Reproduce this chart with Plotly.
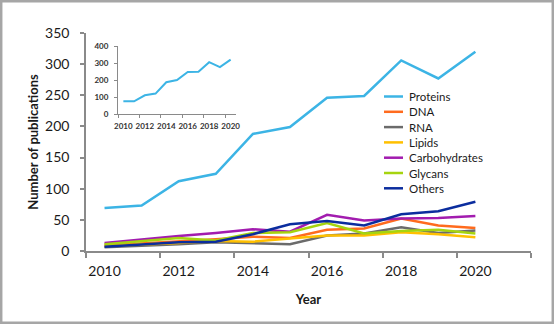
import plotly.graph_objects as go

years = [2010, 2011, 2012, 2013, 2014, 2015, 2016, 2017, 2018, 2019, 2020]
proteins = [69, 73, 112, 124, 188, 199, 246, 249, 306, 277, 320]
dna = [9, 12, 15, 19, 23, 21, 34, 36, 52, 41, 37]
rna = [6, 8, 11, 14, 13, 11, 25, 28, 38, 29, 33]
lipids = [8, 10, 13, 16, 15, 20, 25, 25, 30, 27, 22]
carbohydrates = [13, 19, 24, 29, 35, 31, 58, 49, 52, 53, 56]
glycans = [11, 16, 21, 17, 29, 30, 45, 28, 32, 34, 28]
others = [7, 10, 14, 15, 27, 43, 48, 41, 59, 64, 79]
inset_proteins = [75, 75, 110, 120, 187, 200, 247, 248, 305, 276, 320]

series = [
    ("Proteins", proteins, "#3cb4e5"),
    ("DNA", dna, "#ff6b1e"),
    ("RNA", rna, "#6b6b6b"),
    ("Lipids", lipids, "#ffc000"),
    ("Carbohydrates", carbohydrates, "#a21caf"),
    ("Glycans", glycans, "#a6d40f"),
    ("Others", others, "#0b2d9e"),
]

main_ticks = [2010, 2012, 2014, 2016, 2018, 2020]
main_yticks = [0, 50, 100, 150, 200, 250, 300, 350]
inset_yticks = [0, 100, 200, 300, 400]

W, H = 554, 324
fig = go.Figure()
for name, vals, col in series:
    fig.add_trace(go.Scatter(x=years, y=vals, name=name, mode="lines", showlegend=False,
                             line=dict(color=col, width=2.5), xaxis="x", yaxis="y"))
fig.add_trace(go.Scatter(x=years, y=inset_proteins, mode="lines", showlegend=False,
                         line=dict(color="#3cb4e5", width=2), xaxis="x2", yaxis="y2"))

font = "Lato, 'Open Sans', sans-serif"
axcol = "#8a8a8a"

# manual compact legend (paper coordinates)
shapes = [dict(type="rect", xref="paper", yref="paper",
               x0=1.2 / W, x1=1 - 1.2 / W, y0=1.2 / H, y1=1 - 1.2 / H,
               line=dict(color="#a6a6a6", width=2.5), fillcolor="rgba(0,0,0,0)")]
annotations = []
row0, rowgap = 96.5, 15.3
for i, (name, vals, col) in enumerate(series):
    ypx = row0 + i * rowgap
    yp = 1 - ypx / H
    shapes.append(dict(type="line", xref="paper", yref="paper",
                       x0=384 / W, x1=403 / W, y0=yp, y1=yp,
                       line=dict(color=col, width=2.5)))
    annotations.append(dict(xref="paper", yref="paper", x=407 / W, y=yp,
                            xanchor="left", yanchor="middle", showarrow=False,
                            text=name, font=dict(size=11.5, family=font, color="#1a1a1a")))

fig.update_layout(
    width=W, height=H, margin=dict(l=0, r=0, t=0, b=0),
    paper_bgcolor="white", plot_bgcolor="white",
    font=dict(family=font, color="#1a1a1a"),
    showlegend=False,
    xaxis=dict(domain=[86 / W, 531 / W], range=[2009.5, 2021.5],
               tickvals=main_ticks, ticks="", showgrid=False, zeroline=False,
               showline=True, linecolor=axcol, linewidth=1.5,
               tickfont=dict(size=14), ticklabelstandoff=6,
               minor=dict(ticks="outside", tick0=2011.5, dtick=2, ticklen=5,
                          tickcolor=axcol, tickwidth=1.5, showgrid=False),
               title=dict(text="<b>Year</b>", font=dict(size=13), standoff=17),
               automargin=False),
    yaxis=dict(domain=[1 - 251 / H, 1 - 33 / H], range=[0, 350],
               tickvals=main_yticks, ticks="outside", ticklen=4, tickcolor=axcol,
               tickwidth=1.5, showgrid=False, zeroline=False,
               showline=True, linecolor=axcol, linewidth=1.5,
               tickfont=dict(size=14), ticklabelstandoff=8,
               title=dict(text="<b>Number of publications</b>", font=dict(size=13), standoff=4),
               automargin=False),
    xaxis2=dict(domain=[118 / W, 236 / W], range=[2009.5, 2020.5], anchor="y2",
                tickvals=main_ticks, ticks="", showgrid=False, zeroline=False,
                showline=True, linecolor=axcol, linewidth=1,
                tickfont=dict(size=8, weight="bold", color="#333"), ticklabelstandoff=4,
                minor=dict(ticks="outside", tick0=2011.5, dtick=2, ticklen=3,
                           tickcolor=axcol, tickwidth=1, showgrid=False),
                automargin=False),
    yaxis2=dict(domain=[1 - 114 / H, 1 - 46 / H], range=[0, 400], anchor="x2",
                tickvals=inset_yticks, ticks="outside", ticklen=3, tickcolor=axcol,
                tickwidth=1, showgrid=False, zeroline=False,
                showline=True, linecolor=axcol, linewidth=1,
                tickfont=dict(size=8, weight="bold", color="#333"), ticklabelstandoff=4,
                automargin=False),
    shapes=shapes,
    annotations=annotations,
)

fig.write_html("out.html")
